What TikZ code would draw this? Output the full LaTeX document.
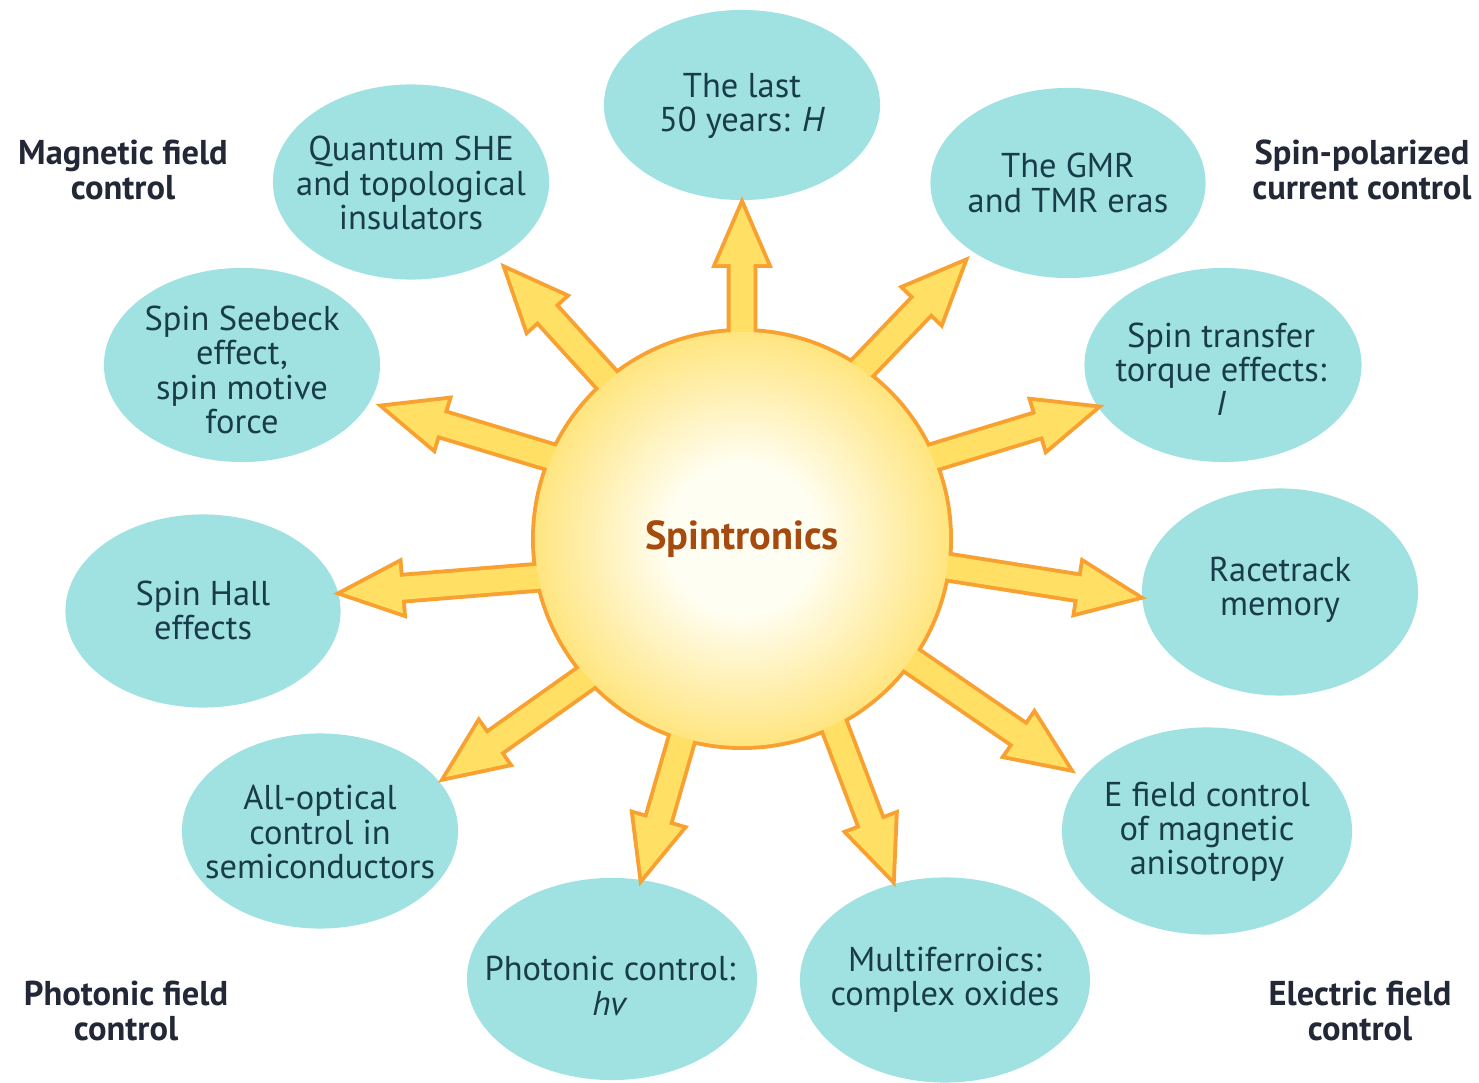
\documentclass[tikz,border=0pt]{standalone}
\usepackage{fontspec}
\setmainfont{PT Sans}
\usetikzlibrary{shapes.geometric,calc}
\definecolor{bub}{RGB}{160,225,226}
\definecolor{btxt}{RGB}{25,60,75}
\definecolor{ocol}{RGB}{248,160,48}
\definecolor{afill}{RGB}{255,224,100}
\definecolor{sunin}{RGB}{255,254,242}
\definecolor{sunout}{RGB}{255,229,128}
\definecolor{sunword}{RGB}{165,75,15}
\definecolor{ctxt}{RGB}{35,40,55}
\pgfdeclareradialshading{sunshade}{\pgfpoint{0bp}{0bp}}{color(0bp)=(sunin); color(9bp)=(sunin); color(25bp)=(sunout); color(50bp)=(sunout)}
\newcommand{\spArrow}[2]{($(#2)$) -- ($(#2)!0.58cm!(#1)!0.25cm!90:(#2)$) -- ($(#2)!0.58cm!(#1)!0.115cm!90:(#2)$) -- ($(#1)!0.115cm!90:(#2)$) -- ($(#1)!0.115cm!-90:(#2)$) -- ($(#2)!0.58cm!(#1)!0.115cm!-90:(#2)$) -- ($(#2)!0.58cm!(#1)!0.25cm!-90:(#2)$) -- cycle}
\begin{document}
\begin{tikzpicture}[x=0.01cm,y=-0.01cm,
 bubble/.style={ellipse, fill=bub, inner sep=0pt},
 btext/.style={text=btxt, align=center, inner sep=0pt, font=\fontsize{9.8pt}{9.7pt}\selectfont},
 corner/.style={text=ctxt, align=center, font=\fontsize{9.8pt}{10pt}\selectfont\bfseries},
 arrowline/.style={draw=ocol, line width=2.2pt, line join=miter},
 arrowfill/.style={fill=afill}]
\path[use as bounding box] (0,0) rectangle (1479,1083);

% bubbles
\node[bubble, minimum width=2.76cm, minimum height=1.90cm] (e1) at (742,105) {};
\node[bubble, minimum width=2.75cm, minimum height=1.90cm] (e2) at (1068,183) {};
\node[bubble, minimum width=2.77cm, minimum height=1.94cm] (e3) at (1223,365) {};
\node[bubble, minimum width=2.76cm, minimum height=2.07cm] (e4) at (1280,592) {};
\node[bubble, minimum width=2.90cm, minimum height=2.07cm] (e5) at (1207,831) {};
\node[bubble, minimum width=2.90cm, minimum height=2.05cm] (e6) at (945,980) {};
\node[bubble, minimum width=2.90cm, minimum height=2.02cm] (e7) at (612,979) {};
\node[bubble, minimum width=2.76cm, minimum height=1.95cm] (e8) at (320,831) {};
\node[bubble, minimum width=2.75cm, minimum height=1.93cm] (e9) at (203,611) {};
\node[bubble, minimum width=2.76cm, minimum height=1.94cm] (e10) at (242,365) {};
\node[bubble, minimum width=2.76cm, minimum height=1.95cm] (e11) at (411,182) {};

\node[btext] (l1) at (742,106) {The last\\50 years: \textit{H}};
\node[btext] (l2) at (1068,183) {The GMR\\and TMR eras};
\node[btext] (l3) at (1221,369) {Spin transfer\\torque effects:\\\textit{I}};
\node[btext] (l4) at (1280,590) {Racetrack\\memory};
\node[btext] (l5) at (1207,832) {E field control\\of magnetic\\anisotropy};
\node[btext] (l6) at (945,980) {Multiferroics:\\complex oxides};
\node[btext] (l7) at (610,986) {Photonic control:\\\textit{hv}};
\node[btext] (l8) at (320,832) {All-optical\\control in\\semiconductors};
\node[btext] (l9) at (203,610) {Spin Hall\\effects};
\node[btext] (l10) at (242,370) {Spin Seebeck\\effect,\\spin motive\\force};
\node[btext] (l11) at (411,183) {Quantum SHE\\and topological\\insulators};

% corner labels
\node[corner] (c1) at (123,170) {Magnetic field\\control};
\node[corner] (c2) at (1362,170) {Spin-polarized\\current control};
\node[corner] (c3) at (126,1011) {Photonic field\\control};
\node[corner] (c4) at (1360,1011) {Electric field\\control};

% arrow end points
\coordinate (b1) at (742,440);  \coordinate (t1) at (742,206);
\coordinate (b2) at (780,454);  \coordinate (t2) at (963,263);
\coordinate (b3) at (780,504);  \coordinate (t3) at (1095,408);
\coordinate (b4) at (833,549);  \coordinate (t4) at (1137,597);
\coordinate (b5) at (812,592);  \coordinate (t5) at (1068,768);
\coordinate (b6) at (772,562);  \coordinate (t6) at (892,878);
\coordinate (b7) at (724,593);  \coordinate (t7) at (642,877);
\coordinate (b8) at (686,607);  \coordinate (t8) at (446,777);
\coordinate (b9) at (628,570);  \coordinate (t9) at (343,593);
\coordinate (b10) at (666,492); \coordinate (t10) at (385,407);
\coordinate (b11) at (687,468); \coordinate (t11) at (507,270);

% sun outline
\node[circle, minimum size=4.14cm, inner sep=0pt, draw=ocol, line width=2.2pt] (sun) at (742,539) {};
% arrow outlines
\foreach \i in {1,...,11} { \path[arrowline] \spArrow{b\i}{t\i}; }
% arrow fills
\foreach \i in {1,...,11} { \path[arrowfill] \spArrow{b\i}{t\i}; }
% sun fill
\shade[shading=sunshade] (sun.center) circle[radius=2.07cm];
\node[text=sunword, font=\fontsize{11.5pt}{11pt}\selectfont\bfseries] (sunlabel) at (742,539) {Spintronics};
\end{tikzpicture}
\end{document}
